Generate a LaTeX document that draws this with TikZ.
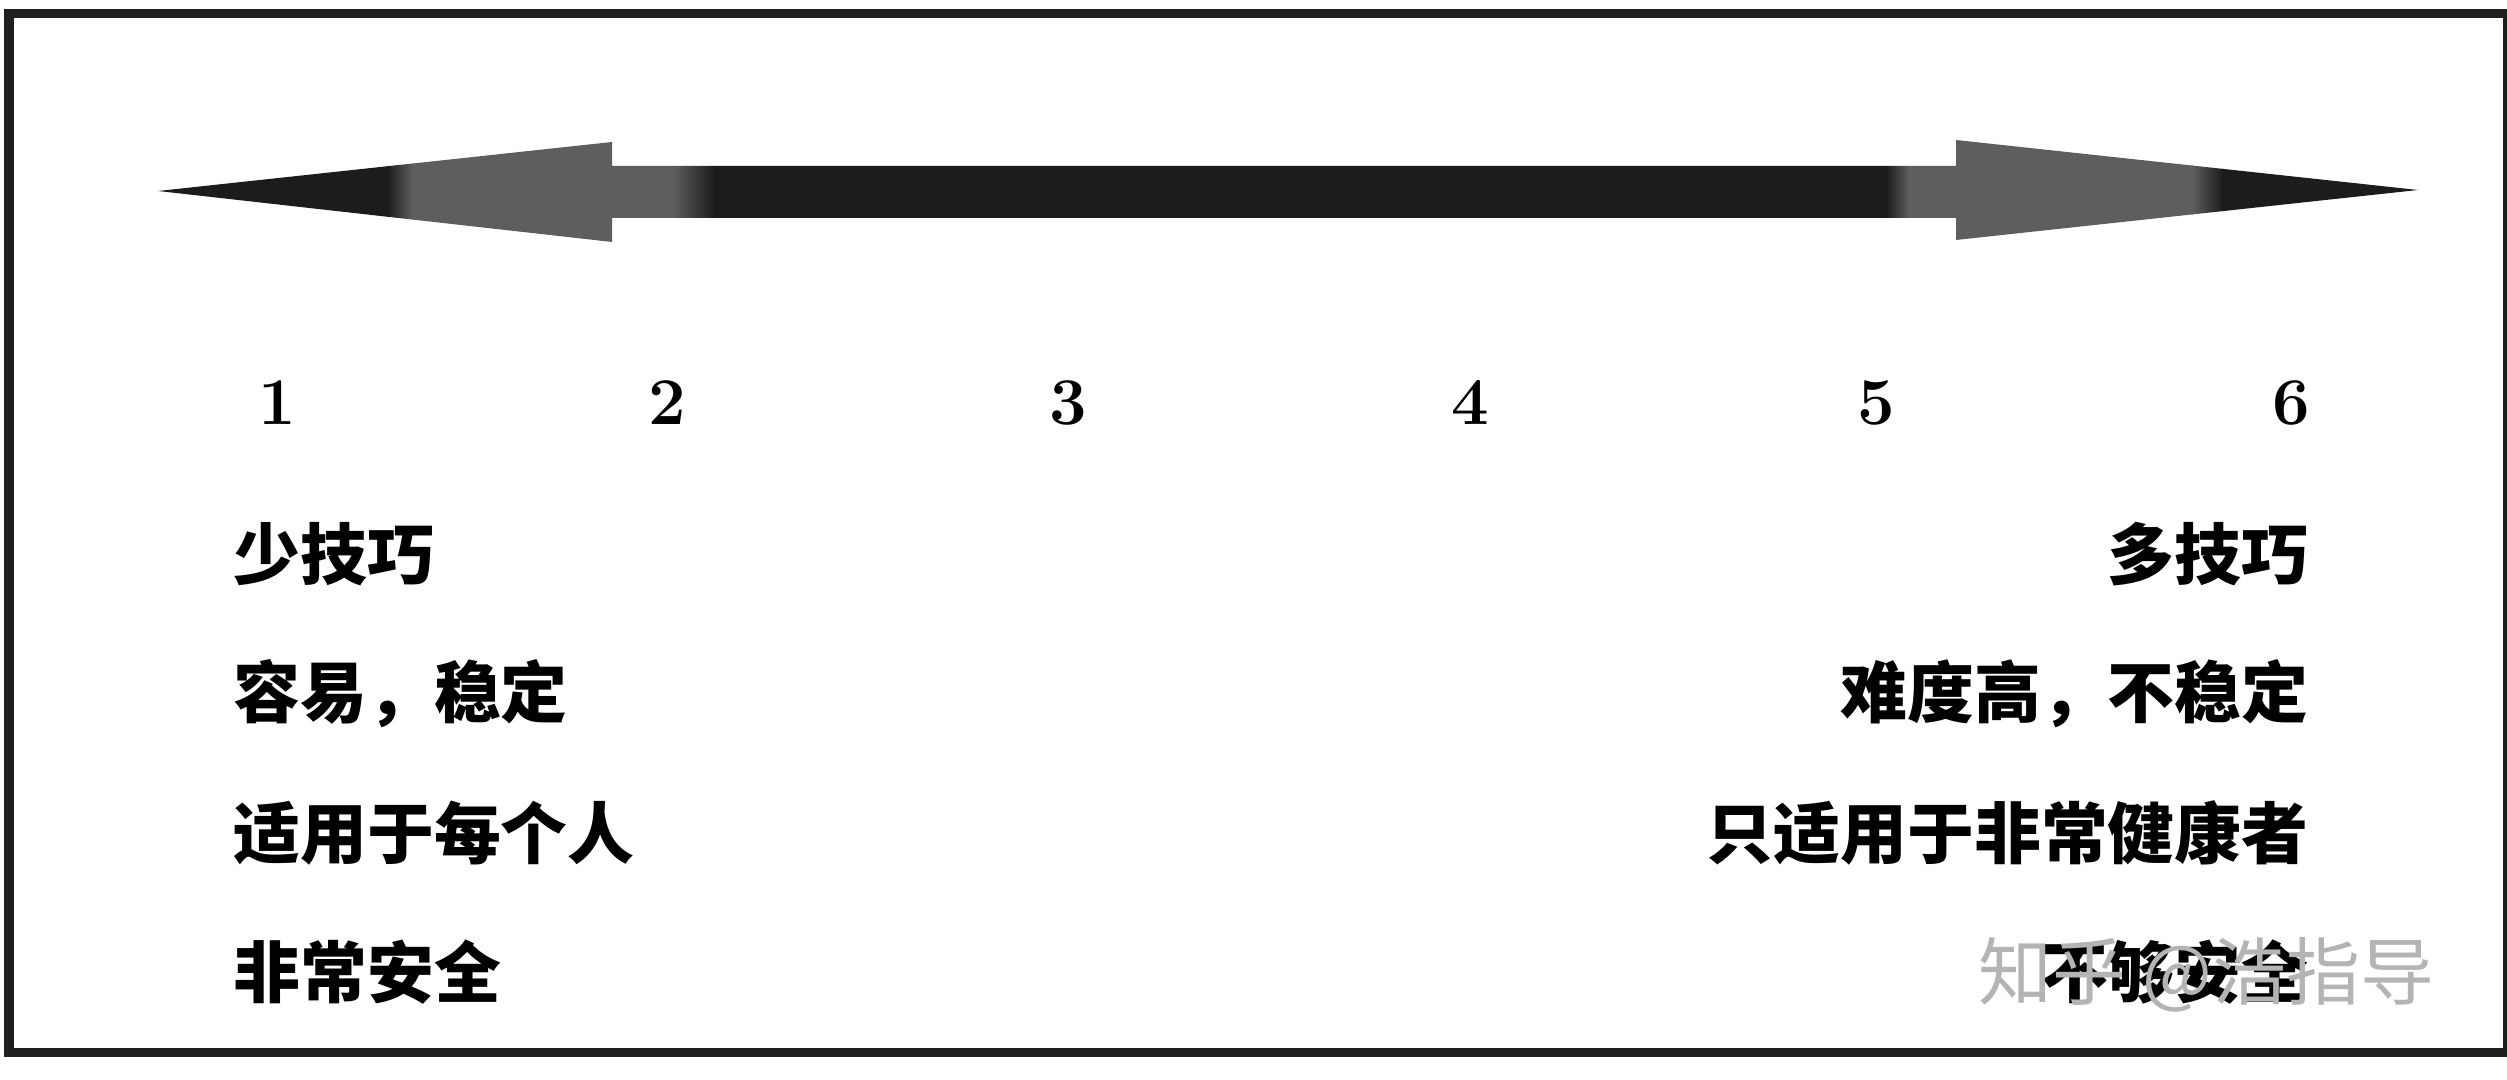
\documentclass[tikz,border=0pt]{standalone}
\usepackage{fontspec}
\newfontfamily\cjk{Noto Sans CJK SC}
\definecolor{ablack}{HTML}{1C1C1C}
\definecolor{agray}{HTML}{5E5E5E}
\definecolor{wmgray}{HTML}{B4B4B4}
\tikzset{
  frameline/.style={line width=0.09cm, draw=black!88},
  numlbl/.style={font=\fontsize{19}{19}\selectfont\bfseries, inner sep=0pt},
  lefttxt/.style={font=\cjk\bfseries\fontsize{19}{19}\selectfont, anchor=west, inner sep=0pt},
  righttxt/.style={font=\cjk\bfseries\fontsize{19}{19}\selectfont, anchor=east, inner sep=0pt},
  wmark/.style={font=\cjk\fontsize{21}{21}\selectfont, text=wmgray, anchor=west, inner sep=0pt},
}
\begin{document}
\begin{tikzpicture}[x=0.01cm, y=-0.01cm]
\useasboundingbox (0,0) rectangle (2507,1080);
\fill[white] (0,0) rectangle (2507,1080);
% frame
\begin{scope}
  \clip (0,0) rectangle (2507,1080);
  \draw[frameline] (9,14) rectangle (2507,1052);
\end{scope}
% double arrow with bands
\begin{scope}
  \clip (158,191) -- (612,142) -- (612,166) -- (1956,166) -- (1956,140)
        -- (2418,190) -- (1956,240) -- (1956,218) -- (612,218) -- (612,242) -- cycle;
  \fill[ablack] (150,120) rectangle (388,260);
  \shade[left color=ablack, right color=agray] (387,120) rectangle (413,260);
  \fill[agray] (412,120) rectangle (674,260);
  \shade[left color=agray, right color=ablack] (673,120) rectangle (715,260);
  \fill[ablack] (714,120) rectangle (1887,260);
  \shade[left color=ablack, right color=agray] (1886,120) rectangle (1909,260);
  \fill[agray] (1908,120) rectangle (2193,260);
  \shade[left color=agray, right color=ablack] (2192,120) rectangle (2223,260);
  \fill[ablack] (2222,120) rectangle (2430,260);
\end{scope}
% scale numbers
\node[numlbl] (n1) at (277,403) {1};
\node[numlbl] (n2) at (667,403) {2};
\node[numlbl] (n3) at (1068,403) {3};
\node[numlbl] (n4) at (1470,403) {4};
\node[numlbl] (n5) at (1876,403) {5};
\node[numlbl] (n6) at (2291,403) {6};
% left texts
\node[lefttxt] (l1) at (233,554) {少技巧};
\node[lefttxt] (l2) at (233,694) {容易，稳定};
\node[lefttxt] (l3) at (233,833) {适用于每个人};
\node[lefttxt] (l4) at (233,972) {非常安全};
% right texts
\node[righttxt] (r1) at (2309,554) {多技巧};
\node[righttxt] (r2) at (2309,694) {难度高，不稳定};
\node[righttxt] (r3) at (2309,833) {只适用于非常健康者};
\node[righttxt] (r4) at (2309,972) {不够安全};
% watermark
\node[wmark] (wm) at (1978,975) {知乎 @浩指导};
\end{tikzpicture}
\end{document}
